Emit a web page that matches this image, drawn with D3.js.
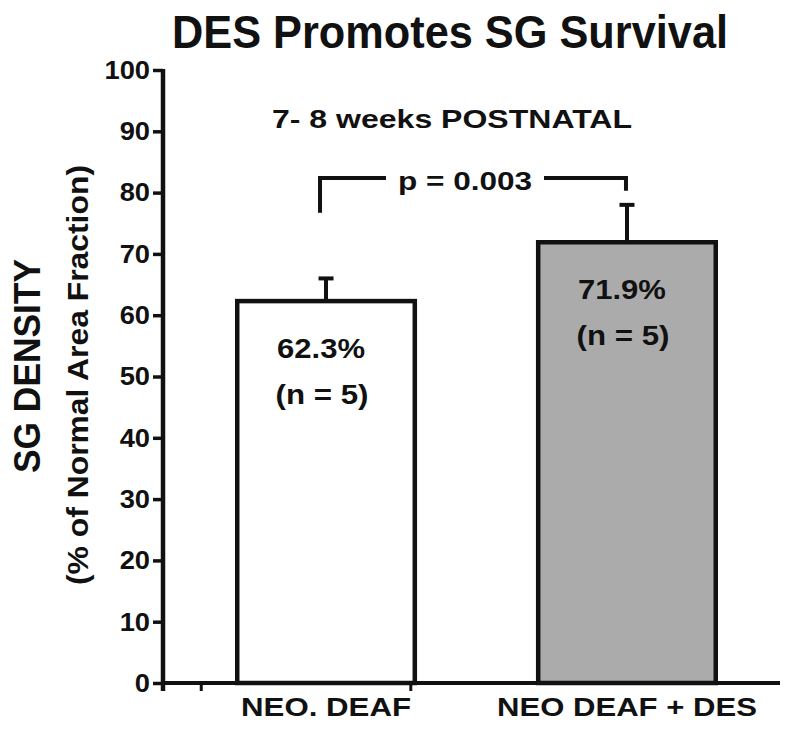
<!DOCTYPE html>
<html>
<head>
<meta charset="utf-8">
<script src="https://cdn.jsdelivr.net/npm/d3@7"></script>
<style>
  html, body { margin: 0; padding: 0; background: #ffffff; }
  svg { display: block; }
  text { font-family: "Liberation Sans", Arial, sans-serif; font-weight: bold; fill: #111; }
</style>
</head>
<body>
<svg id="chart" width="800" height="729"></svg>
<script>
// ---- data ----
const categories = ["NEO. DEAF", "NEO DEAF + DES"];
const means = [62.3, 71.9];
const errorUpper = [66.0, 78.0];
const valueLabels = ["62.3%", "71.9%"];
const nLabels = ["(n = 5)", "(n = 5)"];
const yTicks = [0, 10, 20, 30, 40, 50, 60, 70, 80, 90, 100];
const titleText = "DES Promotes SG Survival";
const subtitleText = "7- 8 weeks POSTNATAL";
const pText = "p = 0.003";
const bracketLevels = { top: 82.4, leftEnd: 76.7, rightEnd: 80.3 };
const yLabelMain = "SG DENSITY";
const yLabelSub = "(% of Normal Area Fraction)";

// ---- styles ----
const barFills = ["#ffffff", "#ababab"];
const ink = "#111111";

const svg = d3.select("#chart");

const y = d3.scaleLinear().domain([0, 100]).range([683, 70]);
const x = d3.scaleBand().domain(categories).range([162, 791])
  .paddingInner(0.41).paddingOuter(0.25).align(0.5);
const bw = x.bandwidth();
const cx = c => x(c) + bw / 2;

function stretch(sel, factor) {
  sel.each(function () {
    const w = this.getComputedTextLength();
    d3.select(this).attr("textLength", w * factor).attr("lengthAdjust", "spacingAndGlyphs");
  });
}

// Title
svg.append("text").attr("x", 450).attr("y", 48).attr("text-anchor", "middle")
  .attr("font-size", 46).attr("textLength", 556).attr("lengthAdjust", "spacingAndGlyphs")
  .text(titleText);

// Subtitle
svg.append("text").attr("x", 452).attr("y", 128).attr("text-anchor", "middle")
  .attr("font-size", 25).attr("textLength", 360).attr("lengthAdjust", "spacingAndGlyphs")
  .text(subtitleText);

// Bars
svg.append("g").selectAll("rect").data(categories).join("rect")
  .attr("x", d => x(d))
  .attr("y", (d, i) => y(means[i]))
  .attr("width", bw)
  .attr("height", (d, i) => y(0) - y(means[i]))
  .attr("fill", (d, i) => barFills[i])
  .attr("stroke", ink).attr("stroke-width", 4.5);

// Error bars
const eb = svg.append("g").attr("stroke", ink).attr("stroke-width", 4).attr("fill", "none");
categories.forEach((c, i) => {
  eb.append("line").attr("x1", cx(c)).attr("x2", cx(c))
    .attr("y1", y(means[i])).attr("y2", y(errorUpper[i]));
  eb.append("line").attr("x1", cx(c) - 7.5).attr("x2", cx(c) + 7.5)
    .attr("y1", y(errorUpper[i])).attr("y2", y(errorUpper[i]));
});

// Value & n labels inside bars
categories.forEach((c, i) => {
  const top = y(means[i]);
  svg.append("text").attr("x", cx(c) - 5).attr("y", top + 57).attr("text-anchor", "middle")
    .attr("font-size", 27).attr("textLength", 88).attr("lengthAdjust", "spacingAndGlyphs")
    .text(valueLabels[i]);
  svg.append("text").attr("x", cx(c) - 4).attr("y", top + 103).attr("text-anchor", "middle")
    .attr("font-size", 27).attr("textLength", 93).attr("lengthAdjust", "spacingAndGlyphs")
    .text(nLabels[i]);
});

// Y axis
const yAxis = d3.axisLeft(y).tickValues(yTicks).tickSize(10).tickPadding(3).tickSizeOuter(0);
const gy = svg.append("g").attr("transform", "translate(163,0)").call(yAxis);
gy.select(".domain").remove();
gy.selectAll(".tick line").attr("stroke", ink).attr("stroke-width", 3.5);
gy.selectAll(".tick text").attr("font-size", 26).attr("fill", ink)
  .attr("font-family", "Liberation Sans, Arial, sans-serif").attr("font-weight", "bold");
stretch(gy.selectAll(".tick text"), 1.05);
svg.append("line").attr("x1", 163).attr("x2", 163).attr("y1", y(100) - 1).attr("y2", y(0) + 8)
  .attr("stroke", ink).attr("stroke-width", 4.5);

// X axis
svg.append("line").attr("x1", 161).attr("x2", 780).attr("y1", y(0)).attr("y2", y(0))
  .attr("stroke", ink).attr("stroke-width", 4);
const minorTicks = [x(categories[0]) - 36, x(categories[0]) + bw - 4];
svg.append("g").selectAll("line").data(minorTicks).join("line")
  .attr("x1", d => d).attr("x2", d => d).attr("y1", y(0)).attr("y2", y(0) + 8)
  .attr("stroke", ink).attr("stroke-width", 3);

const catWidths = [170, 260];
svg.append("g").selectAll("text").data(categories).join("text")
  .attr("x", d => cx(d)).attr("y", 716).attr("text-anchor", "middle")
  .attr("font-size", 26)
  .attr("textLength", (d, i) => catWidths[i]).attr("lengthAdjust", "spacingAndGlyphs")
  .text(d => d);

// Y labels
svg.append("text").attr("transform", "translate(40,366) rotate(-90)")
  .attr("text-anchor", "middle").attr("font-size", 37)
  .attr("textLength", 214).attr("lengthAdjust", "spacingAndGlyphs").text(yLabelMain);
svg.append("text").attr("transform", "translate(88,375) rotate(-90)")
  .attr("text-anchor", "middle").attr("font-size", 30)
  .attr("textLength", 420).attr("lengthAdjust", "spacingAndGlyphs").text(yLabelSub);

// Significance bracket
const pX = 465, pW = 134, gap = 12;
const lx = cx(categories[0]) - 6, rx = cx(categories[1]) - 1;
svg.append("text").attr("x", pX).attr("y", 190).attr("text-anchor", "middle")
  .attr("font-size", 26).attr("textLength", pW).attr("lengthAdjust", "spacingAndGlyphs")
  .text(pText);
const br = svg.append("g").attr("stroke", ink).attr("stroke-width", 4).attr("fill", "none");
br.append("path").attr("d", d3.line()([[lx, y(bracketLevels.leftEnd)], [lx, y(bracketLevels.top)], [pX - pW / 2 - gap, y(bracketLevels.top)]]));
br.append("path").attr("d", d3.line()([[pX + pW / 2 + gap, y(bracketLevels.top)], [rx, y(bracketLevels.top)], [rx, y(bracketLevels.rightEnd)]]));
</script>
</body>
</html>
